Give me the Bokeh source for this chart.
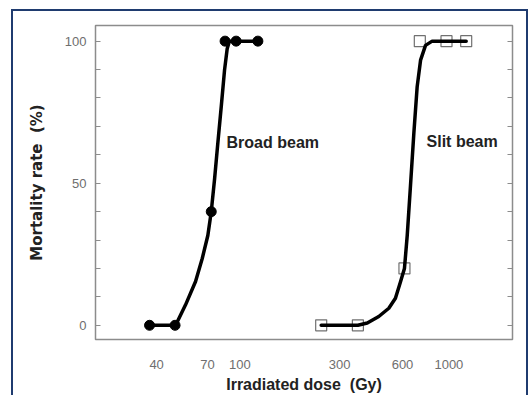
from bokeh.plotting import figure
from bokeh.models import Range1d, FixedTicker, LinearAxis, Label
from bokeh.embed import file_html
from bokeh.resources import INLINE

# ---- data ----
broad_dose = [37, 49, 73, 85, 96, 122]
broad_mort = [0, 0, 40, 100, 100, 100]
slit_dose = [245, 367, 613, 726, 974, 1210]
slit_mort = [0, 0, 20, 100, 100, 100]

# fitted curves as traced on the picture
broad_curve_dose = [37, 49.3, 55.0, 61.4, 66.1, 70.3, 73.0, 75.7, 78.5, 81.5, 84.5, 87.0, 89.2, 122]
broad_curve_mort = [0, 0, 7.2, 15.4, 23.5, 31.6, 40, 51.4, 64.2, 77.0, 89.8, 97.3, 100, 100]
slit_curve_dose = [245, 367, 407, 462, 516, 555, 587, 613, 632, 655, 680, 705, 732, 773, 832, 1210]
slit_curve_mort = [0, 0, 0.8, 3.1, 6.0, 9.5, 15.3, 20, 31.6, 49.1, 67.7, 83.9, 93.3, 98.5, 100, 100]

x_ticks = [40, 70, 100, 300, 600, 1000]
x_tick_labels = ["40", "70", "100", "300", "600", "1000"]
y_ticks = [0, 10, 20, 30, 40, 50, 60, 70, 80, 90, 100]
y_tick_labels = {0: "0", 50: "50", 100: "100"}

x_title = "Irradiated dose\u00a0\u00a0(Gy)"
y_title = "Mortality rate\u00a0\u00a0(%)"
series_names = ["Broad beam", "Slit beam"]

FONT = "Liberation Sans"
TICK_COLOR = "#6e6e6e"
FRAME_COLOR = "#8c8c8c"
NAVY = "#1f3b6f"

p = figure(width=532, height=395, x_axis_type="log",
           x_range=Range1d(20.4, 2015), y_range=Range1d(-5, 105.5),
           output_backend="svg", toolbar_location=None,
           min_border_left=95, min_border_right=20,
           min_border_top=25, min_border_bottom=53)
p.grid.visible = False
p.outline_line_color = FRAME_COLOR
p.outline_line_width = 1.5
p.background_fill_color = "white"
p.border_fill_alpha = 0

# outer navy frame (page decoration, drawn behind the transparent canvas border)
grad = "linear-gradient({c},{c})".format(c=NAVY)
p.styles = {
    "background": (
        grad + " 11px 9px / 2px 400px no-repeat, "
        + grad + " 11px 9px / 517px 2px no-repeat, "
        + grad + " 526px 9px / 2px 400px no-repeat, white"
    )
}

xa = p.xaxis[0]
xa.ticker = FixedTicker(ticks=x_ticks, minor_ticks=[])
xa.major_label_overrides = {t: s for t, s in zip(x_ticks, x_tick_labels)}
xa.major_tick_line_color = None
xa.minor_tick_line_color = None
xa.axis_line_color = None
xa.major_label_standoff = 14
xa.major_label_text_font = FONT
xa.major_label_text_font_size = "13px"
xa.major_label_text_color = TICK_COLOR
xa.axis_label = x_title
xa.axis_label_text_font = FONT
xa.axis_label_text_font_size = "16px"
xa.axis_label_text_font_style = "bold"
xa.axis_label_text_color = "#222222"
xa.axis_label_standoff = 4

ya = p.yaxis[0]
ya.ticker = FixedTicker(ticks=y_ticks, minor_ticks=[])
ya.major_label_overrides = {t: y_tick_labels.get(t, "") for t in y_ticks}
ya.major_tick_in = 5
ya.major_tick_out = 0
ya.major_tick_line_color = FRAME_COLOR
ya.major_tick_line_width = 1.2
ya.minor_tick_line_color = None
ya.axis_line_color = None
ya.major_label_standoff = 9
ya.major_label_text_font = FONT
ya.major_label_text_font_size = "13px"
ya.major_label_text_color = TICK_COLOR
ya.axis_label = y_title
ya.axis_label_text_font = "DejaVu Sans"
ya.axis_label_text_font_size = "15px"
ya.axis_label_text_font_style = "bold"
ya.axis_label_text_color = "#222222"
ya.axis_label_standoff = 16

ra = LinearAxis(ticker=FixedTicker(ticks=y_ticks, minor_ticks=[]))
ra.major_label_overrides = {t: "" for t in y_ticks}
ra.major_tick_in = 5
ra.major_tick_out = 0
ra.major_tick_line_color = FRAME_COLOR
ra.major_tick_line_width = 1.2
ra.minor_tick_line_color = None
ra.axis_line_color = None
p.add_layout(ra, "right")

# curves and points
p.line(broad_curve_dose, broad_curve_mort, line_color="black", line_width=3.5,
       line_join="round", line_cap="round")
p.scatter(broad_dose, broad_mort, marker="circle", size=10,
          fill_color="black", line_color="black")
p.scatter(slit_dose, slit_mort, marker="square", size=11,
          fill_color=None, line_color="#707070", line_width=1.2)
p.line(slit_curve_dose, slit_curve_mort, line_color="black", line_width=3.5,
       line_join="round", line_cap="round")

# series labels
p.add_layout(Label(x=86.4, y=64.4, text=series_names[0], text_font=FONT,
                   text_font_size="16px", text_font_style="bold",
                   text_color="#222222", text_baseline="middle", text_align="left"))
p.add_layout(Label(x=782, y=64.8, text=series_names[1], text_font=FONT,
                   text_font_size="16px", text_font_style="bold",
                   text_color="#222222", text_baseline="middle", text_align="left"))

open("out.html", "w").write(file_html(p, INLINE))
